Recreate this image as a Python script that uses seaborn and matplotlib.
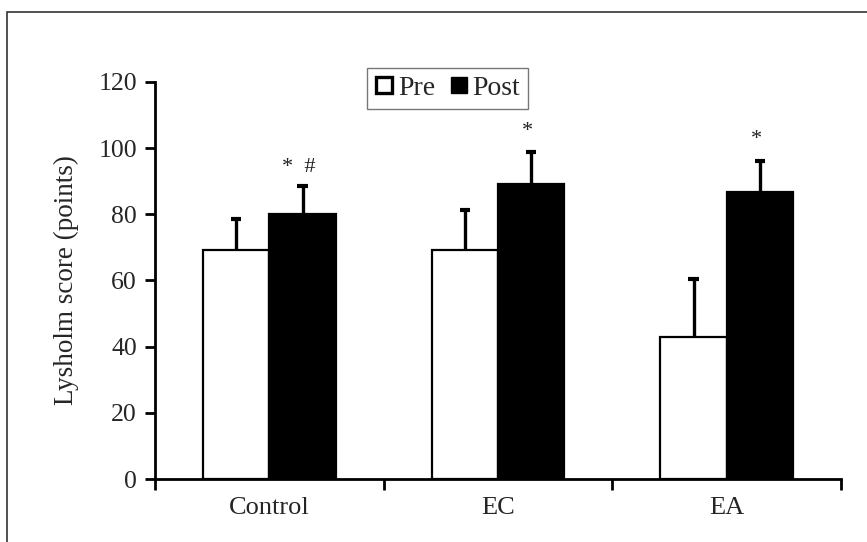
import matplotlib
matplotlib.use("Agg")
import matplotlib.pyplot as plt
import seaborn as sns
import pandas as pd
import numpy as np
from matplotlib.lines import Line2D
from matplotlib.patches import Rectangle

groups = ["Control", "EC", "EA"]
phases = ["Pre", "Post"]
pre_mean = [69.2, 69.3, 43.0]
pre_sd = [9.3, 11.9, 17.5]
post_mean = [80.1, 89.0, 86.6]
post_sd = [8.5, 9.9, 9.6]
annotations = ["*  #", "*", "*"]
annot_y = [94.0, 105.0, 102.5]
yticks = [0, 20, 40, 60, 80, 100, 120]

df = pd.DataFrame({
    "group": groups * 2,
    "phase": ["Pre"] * 3 + ["Post"] * 3,
    "score": pre_mean + post_mean,
})

sns.set_style("ticks")
plt.rcParams["font.family"] = ["Liberation Serif", "DejaVu Serif"]

fig = plt.figure(figsize=(8.67, 5.42), dpi=100)
ax = fig.add_axes([0.1788, 0.1162, 0.7912, 0.7328])

sns.barplot(data=df, x="group", y="score", hue="phase", order=groups,
            hue_order=phases, palette=["white", "black"], edgecolor="black",
            linewidth=1.6, width=0.58, errorbar=None, ax=ax, legend=False,
            saturation=1)

errs = [pre_sd, post_sd]
cap_half = 0.022
for cont, err in zip(ax.containers, errs):
    xs = np.array([b.get_x() + b.get_width() / 2 for b in cont])
    hs = np.array([b.get_height() for b in cont])
    tops = hs + np.array(err)
    ax.vlines(xs, hs, tops, color="black", linewidth=2.4, zorder=1)
    ax.hlines(tops, xs - cap_half, xs + cap_half, color="black",
              linewidth=3.0, zorder=1)

post_bars = ax.containers[1]
for b, txt, yy in zip(post_bars, annotations, annot_y):
    ax.text(b.get_x() + b.get_width() / 2 - 0.015, yy, txt, ha="center",
            va="center", fontsize=16, color="#222222")

ax.set_ylim(0, 120)
ax.set_xlim(-0.5, 2.5)
ax.set_yticks(yticks)
ax.set_yticklabels([str(v) for v in yticks], fontsize=18.5)
ax.set_xticks(range(len(groups)))
ax.set_xticklabels(groups, fontsize=19)
ax.set_xticks([-0.5, 0.5, 1.5, 2.5], minor=True)
ax.tick_params(axis="x", which="major", length=0, pad=13)
ax.tick_params(axis="x", which="minor", length=8, width=2, color="black")
ax.tick_params(axis="y", length=7, width=2, color="black", pad=6)
ax.set_xlabel("")
ax.set_ylabel("Lysholm score (points)", fontsize=19.5, labelpad=14)
for s in ["left", "bottom"]:
    ax.spines[s].set_linewidth(2)
    ax.spines[s].set_color("black")
sns.despine(ax=ax)

handles = [Line2D([0], [0], marker="s", linestyle="none", markersize=11.5,
                  markerfacecolor="white", markeredgecolor="black",
                  markeredgewidth=2.4),
           Line2D([0], [0], marker="s", linestyle="none", markersize=11.5,
                  markerfacecolor="black", markeredgecolor="black")]
leg = ax.legend(handles, phases, loc="upper center",
                bbox_to_anchor=(0.426, 1.035), ncol=2, fontsize=20,
                frameon=True, fancybox=False, edgecolor="#555555",
                handlelength=0.7, handletextpad=0.15, columnspacing=0.5,
                borderpad=0.28, borderaxespad=0)
leg.get_frame().set_linewidth(1.0)

fig.patches.append(Rectangle((7 / 867, -0.05), 1.2, 1 - 12 / 542 + 0.05,
                             transform=fig.transFigure, fill=False,
                             edgecolor="#333333", linewidth=1.2))

fig.savefig("out.png", dpi=100)
